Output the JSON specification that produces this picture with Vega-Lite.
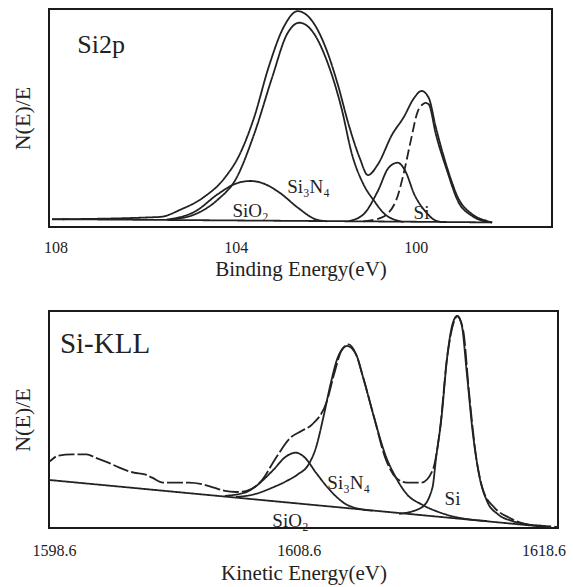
{
  "$schema": "https://vega.github.io/schema/vega-lite/v6.json",
  "padding": {"left": 10, "top": 8, "right": 5, "bottom": 4},
  "background": "white",
  "config": {
    "font": "Liberation Serif",
    "view": {"stroke": "#1a1a1a", "strokeWidth": 2},
    "axis": {"grid": false, "domain": false, "ticks": false, "labelColor": "#222", "titleColor": "#222", "titleFontWeight": "normal", "labelFont": "Liberation Serif", "titleFont": "Liberation Serif"}
  },
  "datasets": {
    "si2p": [
      {"series": "envelope", "be": 108.08, "n": 3.5}, {"series": "envelope", "be": 105.69, "n": 4.6}, {"series": "envelope", "be": 105.21, "n": 8.1}, {"series": "envelope", "be": 104.72, "n": 13.5}, {"series": "envelope", "be": 104.24, "n": 22.6}, {"series": "envelope", "be": 103.91, "n": 33.3}, {"series": "envelope", "be": 103.59, "n": 50.2}, {"series": "envelope", "be": 103.27, "n": 73.1}, {"series": "envelope", "be": 102.94, "n": 91.4}, {"series": "envelope", "be": 102.62, "n": 99.0}, {"series": "envelope", "be": 102.30, "n": 94.5}, {"series": "envelope", "be": 101.97, "n": 80.7}, {"series": "envelope", "be": 101.73, "n": 65.4}, {"series": "envelope", "be": 101.49, "n": 47.1}, {"series": "envelope", "be": 101.245, "n": 31.8}, {"series": "envelope", "be": 101.06, "n": 23.8}, {"series": "envelope", "be": 100.84, "n": 28.7}, {"series": "envelope", "be": 100.52, "n": 42.5}, {"series": "envelope", "be": 100.27, "n": 50.2}, {"series": "envelope", "be": 100.03, "n": 59.3}, {"series": "envelope", "be": 99.87, "n": 62.4}, {"series": "envelope", "be": 99.71, "n": 59.3}, {"series": "envelope", "be": 99.55, "n": 45.6}, {"series": "envelope", "be": 99.30, "n": 27.2}, {"series": "envelope", "be": 99.06, "n": 13.5}, {"series": "envelope", "be": 98.74, "n": 5.8}, {"series": "envelope", "be": 98.41, "n": 2.75}, {"series": "envelope", "be": 98.30, "n": 2.1},
      {"series": "Si3N4", "be": 105.45, "n": 3.4}, {"series": "Si3N4", "be": 104.885, "n": 6.0}, {"series": "Si3N4", "be": 104.40, "n": 12.5}, {"series": "Si3N4", "be": 103.995, "n": 22.0}, {"series": "Si3N4", "be": 103.59, "n": 42.5}, {"series": "Si3N4", "be": 103.19, "n": 68.5}, {"series": "Si3N4", "be": 102.86, "n": 88.4}, {"series": "Si3N4", "be": 102.58, "n": 93.7}, {"series": "Si3N4", "be": 102.30, "n": 89.9}, {"series": "Si3N4", "be": 101.97, "n": 76.1}, {"series": "Si3N4", "be": 101.65, "n": 54.7}, {"series": "Si3N4", "be": 101.41, "n": 33.0}, {"series": "Si3N4", "be": 101.16, "n": 19.6}, {"series": "Si3N4", "be": 100.92, "n": 11.9}, {"series": "Si3N4", "be": 100.68, "n": 5.8}, {"series": "Si3N4", "be": 100.27, "n": 2.3},
      {"series": "SiO2", "be": 105.53, "n": 3.4}, {"series": "SiO2", "be": 104.885, "n": 7.3}, {"series": "SiO2", "be": 104.40, "n": 15.0}, {"series": "SiO2", "be": 103.995, "n": 19.9}, {"series": "SiO2", "be": 103.67, "n": 21.1}, {"series": "SiO2", "be": 103.43, "n": 20.3}, {"series": "SiO2", "be": 103.02, "n": 15.7}, {"series": "SiO2", "be": 102.62, "n": 8.9}, {"series": "SiO2", "be": 102.22, "n": 3.5}, {"series": "SiO2", "be": 101.97, "n": 2.6},
      {"series": "Si sub", "be": 101.49, "n": 2.7}, {"series": "Si sub", "be": 101.16, "n": 5.8}, {"series": "Si sub", "be": 100.84, "n": 16.5}, {"series": "Si sub", "be": 100.60, "n": 27.2}, {"series": "Si sub", "be": 100.40, "n": 29.5}, {"series": "Si sub", "be": 100.23, "n": 25.7}, {"series": "Si sub", "be": 100.03, "n": 15.0}, {"series": "Si sub", "be": 99.79, "n": 7.3}, {"series": "Si sub", "be": 99.55, "n": 2.9}, {"series": "Si sub", "be": 99.38, "n": 2.2},
      {"series": "Si rise", "be": 101.16, "n": 2.6}, {"series": "Si rise", "be": 100.76, "n": 4.3}, {"series": "Si rise", "be": 100.44, "n": 11.9}, {"series": "Si rise", "be": 100.27, "n": 24.2}, {"series": "Si rise", "be": 100.11, "n": 39.4}, {"series": "Si rise", "be": 99.95, "n": 53.2}, {"series": "Si rise", "be": 99.79, "n": 57.0},
      {"series": "Si fall", "be": 99.79, "n": 57.0}, {"series": "Si fall", "be": 99.71, "n": 56.3}, {"series": "Si fall", "be": 99.55, "n": 42.5}, {"series": "Si fall", "be": 99.30, "n": 25.7}, {"series": "Si fall", "be": 99.06, "n": 11.9}, {"series": "Si fall", "be": 98.74, "n": 5.0}, {"series": "Si fall", "be": 98.41, "n": 2.4}, {"series": "Si fall", "be": 98.30, "n": 2.1},
      {"series": "background", "be": 108.08, "n": 3.6}, {"series": "background", "be": 104.0, "n": 3.0}, {"series": "background", "be": 100.0, "n": 2.4}, {"series": "background", "be": 98.3, "n": 2.1}
    ],
    "si2pPeaks": [
      {"label": "SiO₂", "be": 103.67, "n": 7.5},
      {"label": "Si₃N₄", "be": 102.38, "n": 18.5},
      {"label": "Si", "be": 99.87, "n": 6.5}
    ],
    "si2pTitle": [{"label": "Si2p", "be": 107.52, "n": 79.8}],
    "sikll": [
      {"series": "measured", "ke": 1598.15, "n": 31.6}, {"series": "measured", "ke": 1598.29, "n": 30.1}, {"series": "measured", "ke": 1598.74, "n": 33.2}, {"series": "measured", "ke": 1599.34, "n": 33.9}, {"series": "measured", "ke": 1599.93, "n": 33.9}, {"series": "measured", "ke": 1600.30, "n": 32.4}, {"series": "measured", "ke": 1600.82, "n": 30.1}, {"series": "measured", "ke": 1601.27, "n": 27.8}, {"series": "measured", "ke": 1601.86, "n": 25.5}, {"series": "measured", "ke": 1602.31, "n": 24.7}, {"series": "measured", "ke": 1602.61, "n": 23.2}, {"series": "measured", "ke": 1603.05, "n": 20.9}, {"series": "measured", "ke": 1603.50, "n": 20.9}, {"series": "measured", "ke": 1604.10, "n": 20.9}, {"series": "measured", "ke": 1604.69, "n": 20.1}, {"series": "measured", "ke": 1605.14, "n": 18.6}, {"series": "measured", "ke": 1605.58, "n": 17.1}, {"series": "measured", "ke": 1606.03, "n": 16.6}, {"series": "measured", "ke": 1606.47, "n": 17.1}, {"series": "measured", "ke": 1607.07, "n": 21.7}, {"series": "measured", "ke": 1607.67, "n": 32.4}, {"series": "measured", "ke": 1608.26, "n": 41.6}, {"series": "measured", "ke": 1608.71, "n": 44.7}, {"series": "measured", "ke": 1609.15, "n": 47.8}, {"series": "measured", "ke": 1609.75, "n": 58.5}, {"series": "measured", "ke": 1610.04, "n": 70.8}, {"series": "measured", "ke": 1610.34, "n": 81.6}, {"series": "measured", "ke": 1610.64, "n": 84.6}, {"series": "measured", "ke": 1610.94, "n": 80.0}, {"series": "measured", "ke": 1611.23, "n": 69.3}, {"series": "measured", "ke": 1611.68, "n": 50.8}, {"series": "measured", "ke": 1612.13, "n": 32.4}, {"series": "measured", "ke": 1612.57, "n": 23.2}, {"series": "measured", "ke": 1613.02, "n": 20.9}, {"series": "measured", "ke": 1613.61, "n": 20.9}, {"series": "measured", "ke": 1614.06, "n": 26.3}, {"series": "measured", "ke": 1614.36, "n": 44.7}, {"series": "measured", "ke": 1614.66, "n": 78.5}, {"series": "measured", "ke": 1614.95, "n": 95.4}, {"series": "measured", "ke": 1615.07, "n": 97.7}, {"series": "measured", "ke": 1615.32, "n": 90.8}, {"series": "measured", "ke": 1615.55, "n": 63.1}, {"series": "measured", "ke": 1615.85, "n": 32.4}, {"series": "measured", "ke": 1616.14, "n": 17.1}, {"series": "measured", "ke": 1616.59, "n": 9.4}, {"series": "measured", "ke": 1617.18, "n": 4.8}, {"series": "measured", "ke": 1617.93, "n": 1.7}, {"series": "measured", "ke": 1618.67, "n": 0.9}, {"series": "measured", "ke": 1619.19, "n": 0.5},
      {"series": "background", "ke": 1598.15, "n": 22.4}, {"series": "background", "ke": 1618.9, "n": 0.3},
      {"series": "SiO2", "ke": 1605.58, "n": 14.8}, {"series": "SiO2", "ke": 1606.47, "n": 16.6}, {"series": "SiO2", "ke": 1606.77, "n": 18.6}, {"series": "SiO2", "ke": 1607.52, "n": 26.3}, {"series": "SiO2", "ke": 1608.11, "n": 33.2}, {"series": "SiO2", "ke": 1608.48, "n": 34.7}, {"series": "SiO2", "ke": 1608.85, "n": 32.4}, {"series": "SiO2", "ke": 1609.30, "n": 25.5}, {"series": "SiO2", "ke": 1609.90, "n": 17.1}, {"series": "SiO2", "ke": 1610.49, "n": 11.2}, {"series": "SiO2", "ke": 1611.09, "n": 8.8}, {"series": "SiO2", "ke": 1611.6, "n": 8.0},
      {"series": "Si3N4", "ke": 1606.03, "n": 14.3}, {"series": "Si3N4", "ke": 1606.77, "n": 15.5}, {"series": "Si3N4", "ke": 1607.52, "n": 18.6}, {"series": "Si3N4", "ke": 1608.11, "n": 21.7}, {"series": "Si3N4", "ke": 1608.56, "n": 24.7}, {"series": "Si3N4", "ke": 1609.00, "n": 29.3}, {"series": "Si3N4", "ke": 1609.30, "n": 37.0}, {"series": "Si3N4", "ke": 1609.60, "n": 50.8}, {"series": "Si3N4", "ke": 1609.90, "n": 66.4}, {"series": "Si3N4", "ke": 1610.19, "n": 78.5}, {"series": "Si3N4", "ke": 1610.57, "n": 83.9}, {"series": "Si3N4", "ke": 1610.94, "n": 80.0}, {"series": "Si3N4", "ke": 1611.23, "n": 69.3}, {"series": "Si3N4", "ke": 1611.68, "n": 50.8}, {"series": "Si3N4", "ke": 1612.13, "n": 33.9}, {"series": "Si3N4", "ke": 1612.57, "n": 23.2}, {"series": "Si3N4", "ke": 1613.02, "n": 15.5}, {"series": "Si3N4", "ke": 1613.61, "n": 10.9}, {"series": "Si3N4", "ke": 1614.21, "n": 7.8}, {"series": "Si3N4", "ke": 1614.95, "n": 5.2}, {"series": "Si3N4", "ke": 1615.55, "n": 4.0}, {"series": "Si3N4", "ke": 1616.3, "n": 3.2},
      {"series": "Si", "ke": 1612.7, "n": 6.5}, {"series": "Si", "ke": 1613.61, "n": 9.4}, {"series": "Si", "ke": 1614.06, "n": 18.6}, {"series": "Si", "ke": 1614.21, "n": 32.4}, {"series": "Si", "ke": 1614.43, "n": 50.8}, {"series": "Si", "ke": 1614.66, "n": 78.5}, {"series": "Si", "ke": 1614.88, "n": 93.9}, {"series": "Si", "ke": 1615.07, "n": 97.7}, {"series": "Si", "ke": 1615.25, "n": 93.9}, {"series": "Si", "ke": 1615.47, "n": 70.8}, {"series": "Si", "ke": 1615.70, "n": 44.7}, {"series": "Si", "ke": 1615.99, "n": 23.2}, {"series": "Si", "ke": 1616.29, "n": 12.4}, {"series": "Si", "ke": 1616.74, "n": 6.3}, {"series": "Si", "ke": 1617.33, "n": 3.2}, {"series": "Si", "ke": 1617.93, "n": 1.7}, {"series": "Si", "ke": 1618.67, "n": 0.9}
    ],
    "sikllPeaks": [
      {"label": "SiO₂", "ke": 1608.26, "n": 3.2},
      {"label": "Si₃N₄", "ke": 1610.64, "n": 20.9},
      {"label": "Si", "ke": 1614.88, "n": 13.2}
    ],
    "sikllTitle": [{"label": "Si-KLL", "ke": 1598.84, "n": 80.6}]
  },
  "resolve": {"scale": {"x": "independent", "y": "independent", "strokeDash": "independent"}},
  "spacing": 30,
  "vconcat": [
    {
      "width": 503,
      "height": 218,
      "layer": [
        {
          "data": {"name": "si2p"},
          "mark": {"type": "line", "interpolate": "monotone", "strokeWidth": 1.8, "color": "#222", "clip": true},
          "encoding": {
            "x": {"field": "be", "type": "quantitative", "scale": {"domain": [96.97, 108.147], "reverse": true, "nice": false, "zero": false},
              "axis": {"values": [108, 104, 100], "title": "Binding Energy(eV)", "labelFont": "Liberation Serif", "titleFont": "Liberation Serif", "labelFontSize": 16, "titleFontSize": 21, "labelPadding": 12, "titlePadding": 3}},
            "y": {"field": "n", "type": "quantitative", "scale": {"domain": [0, 100], "nice": false},
              "axis": {"title": "N(E)/E", "labels": false, "titleFont": "Liberation Serif", "titleFontSize": 22, "titlePadding": 15}},
            "detail": {"field": "series"},
            "strokeDash": {"field": "series", "type": "nominal", "legend": null,
              "scale": {"domain": ["envelope", "Si3N4", "SiO2", "Si sub", "Si rise", "Si fall", "background"], "range": [[1, 0], [1, 0], [1, 0], [1, 0], [10, 4], [1, 0], [1, 0]]}}
          }
        },
        {
          "data": {"name": "si2pPeaks"},
          "mark": {"type": "text", "color": "#222", "font": "Liberation Serif", "fontSize": 19, "align": "center", "baseline": "middle"},
          "encoding": {
            "x": {"field": "be", "type": "quantitative"},
            "y": {"field": "n", "type": "quantitative"},
            "text": {"field": "label"}
          }
        },
        {
          "data": {"name": "si2pTitle"},
          "mark": {"type": "text", "color": "#222", "font": "Liberation Serif", "fontSize": 26, "align": "left", "baseline": "alphabetic"},
          "encoding": {
            "x": {"field": "be", "type": "quantitative"},
            "y": {"field": "n", "type": "quantitative"},
            "text": {"field": "label"}
          }
        }
      ]
    },
    {
      "width": 509,
      "height": 217,
      "layer": [
        {
          "data": {"name": "sikll"},
          "mark": {"type": "line", "interpolate": "monotone", "strokeWidth": 1.8, "color": "#222", "clip": true},
          "encoding": {
            "x": {"field": "ke", "type": "quantitative", "scale": {"domain": [1598.395, 1619.19], "nice": false, "zero": false},
              "axis": {"values": [1598.6, 1608.6, 1618.6], "format": ".1f", "title": "Kinetic Energy(eV)", "labelFont": "Liberation Serif", "titleFont": "Liberation Serif", "labelFontSize": 16, "titleFontSize": 21, "labelPadding": 14, "titlePadding": 4}},
            "y": {"field": "n", "type": "quantitative", "scale": {"domain": [0, 100], "nice": false},
              "axis": {"title": "N(E)/E", "labels": false, "titleFont": "Liberation Serif", "titleFontSize": 22, "titlePadding": 15}},
            "detail": {"field": "series"},
            "strokeDash": {"field": "series", "type": "nominal", "legend": null,
              "scale": {"domain": ["measured", "background", "SiO2", "Si3N4", "Si"], "range": [[16, 3], [1, 0], [1, 0], [1, 0], [1, 0]]}}
          }
        },
        {
          "data": {"name": "sikllPeaks"},
          "mark": {"type": "text", "color": "#222", "font": "Liberation Serif", "fontSize": 19, "align": "center", "baseline": "middle"},
          "encoding": {
            "x": {"field": "ke", "type": "quantitative"},
            "y": {"field": "n", "type": "quantitative"},
            "text": {"field": "label"}
          }
        },
        {
          "data": {"name": "sikllTitle"},
          "mark": {"type": "text", "color": "#222", "font": "Liberation Serif", "fontSize": 29, "align": "left", "baseline": "alphabetic"},
          "encoding": {
            "x": {"field": "ke", "type": "quantitative"},
            "y": {"field": "n", "type": "quantitative"},
            "text": {"field": "label"}
          }
        }
      ]
    }
  ]
}
